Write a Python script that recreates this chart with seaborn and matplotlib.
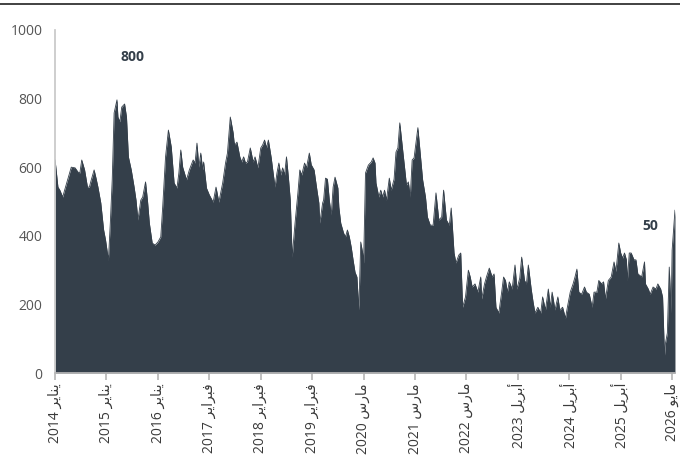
import seaborn as sns
import matplotlib.pyplot as plt
import pandas as pd

# weekly counts (week 0 = Jan 2014)
weeks = [0, 3, 5, 8, 10, 14, 17, 21, 24, 26, 28, 31, 34, 36, 38, 41, 43, 45, 48, 51,
         53, 56, 58, 60, 62, 65, 66, 68, 70, 73, 75, 77, 80, 83, 85, 87, 90, 92, 95, 97,
         99, 102, 105, 108, 111, 113, 116, 119, 122, 125, 128, 130, 132, 134, 138, 141, 145, 147, 149, 151,
         153, 155, 156, 159, 162, 166, 169, 172, 176, 179, 181, 184, 187, 188, 189, 191, 194, 196, 198, 200,
         202, 205, 208, 210, 213, 216, 218, 220, 222, 224, 227, 229, 231, 233, 235, 237, 239, 241, 243, 245,
         247, 249, 252, 255, 257, 259, 262, 264, 267, 269, 272, 275, 277, 278, 281, 282, 284, 286, 288, 290,
         292, 294, 297, 298, 300, 303, 305, 307, 309, 311, 313, 315, 317, 319, 321, 323, 324, 326, 329, 332,
         334, 336, 337, 340, 342, 344, 346, 348, 351, 353, 356, 358, 360, 362, 365, 367, 369, 371, 373, 375,
         377, 381, 386, 389, 391, 394, 397, 400, 403, 406, 408, 411, 414, 416, 419, 421, 424, 426, 428, 431,
         434, 436, 438, 441, 444, 447, 448, 451, 453, 456, 459, 461, 463, 466, 469, 471, 473, 475, 477, 480,
         483, 485, 488, 490, 493, 495, 497, 500, 502, 504, 507, 510, 512, 515, 518, 520, 522, 525, 528, 530,
         533, 536, 538, 541, 544, 546, 548, 550, 553, 556, 558, 561, 564, 566, 569, 571, 574, 576, 578, 581,
         584, 587, 589, 592, 594, 596, 598, 600, 601, 603, 605, 608, 610, 612, 614, 616, 619, 620, 623, 625,
         628, 631, 633, 636, 638, 640, 641, 643, 645, 647, 648, 651]
counts = [621, 542, 533, 513, 533, 571, 600, 598, 586, 583, 621, 592, 542, 542, 563, 592, 568, 542, 496, 417,
          388, 329, 437, 563, 758, 796, 746, 732, 775, 784, 746, 630, 592, 542, 504, 446, 504, 513, 557, 504,
          437, 379, 373, 382, 397, 484, 630, 708, 659, 554, 539, 583, 650, 600, 563, 592, 621, 612, 670, 600,
          641, 592, 615, 539, 519, 498, 542, 498, 554, 612, 641, 746, 700, 673, 665, 673, 630, 615, 630, 612,
          615, 656, 615, 630, 598, 656, 665, 679, 656, 679, 627, 583, 542, 583, 612, 577, 598, 577, 630, 571,
          504, 338, 437, 525, 592, 577, 612, 598, 641, 607, 592, 533, 496, 437, 496, 504, 568, 565, 504, 461,
          542, 571, 539, 484, 437, 408, 397, 417, 397, 367, 329, 294, 280, 184, 382, 350, 321, 583, 606, 615,
          627, 612, 554, 513, 533, 513, 533, 504, 568, 533, 565, 644, 656, 729, 650, 600, 548, 557, 513, 621,
          627, 715, 563, 513, 455, 431, 431, 525, 446, 455, 533, 446, 431, 481, 350, 321, 344, 350, 192, 222,
          300, 280, 251, 260, 236, 280, 216, 260, 280, 306, 280, 289, 192, 175, 236, 280, 270, 236, 266, 245,
          315, 245, 277, 338, 270, 260, 315, 245, 207, 175, 192, 175, 222, 184, 245, 192, 236, 184, 222, 184,
          192, 160, 192, 236, 260, 280, 303, 236, 230, 251, 236, 230, 192, 236, 236, 270, 260, 266, 216, 270,
          280, 324, 296, 379, 350, 335, 350, 330, 270, 350, 350, 330, 330, 289, 285, 280, 324, 260, 245, 230,
          251, 245, 260, 245, 222, 52, 87, 117, 309, 175, 358, 475]

tick_weeks = [0, 54, 108, 162, 216, 270, 324, 378, 432, 486, 540, 594, 648]
tick_labels = ['يناير 2014', 'يناير 2015', 'يناير 2016', 'فبراير 2017', 'فبراير 2018',
               'فبراير 2019', 'مارس 2020', 'مارس 2021', 'مارس 2022', 'أبريل 2023',
               'أبريل 2024', 'أبريل 2025', 'مايو 2026']
y_ticks = [0, 200, 400, 600, 800, 1000]

# matplotlib does no arabic shaping, so pick the joined glyph forms by hand
FORMS = {  # isolated, final, initial, medial
    'ي': '\ufef1\ufef2\ufef3\ufef4', 'ن': '\ufee5\ufee6\ufee7\ufee8',
    'ف': '\ufed1\ufed2\ufed3\ufed4', 'ب': '\ufe8f\ufe90\ufe91\ufe92',
    'م': '\ufee1\ufee2\ufee3\ufee4', 'س': '\ufeb1\ufeb2\ufeb3\ufeb4',
    'ل': '\ufedd\ufede\ufedf\ufee0',
    'ا': '\ufe8d\ufe8e', 'أ': '\ufe83\ufe84', 'ر': '\ufead\ufeae', 'و': '\ufeed\ufeee',
}


def shape(word):
    out = []
    for i, ch in enumerate(word):
        f = FORMS[ch]
        prev_joins = i > 0 and len(FORMS[word[i - 1]]) == 4
        next_joins = i < len(word) - 1 and len(f) == 4
        if prev_joins and next_joins:
            out.append(f[3])
        elif next_joins:
            out.append(f[2])
        elif prev_joins:
            out.append(f[1])
        else:
            out.append(f[0])
    return ''.join(out[::-1])


def visual(label):
    month, year = label.rsplit(' ', 1)
    return year + ' ' + shape(month)


df = pd.DataFrame({'week': weeks, 'count': counts})

sns.set_theme(style='white')
plt.rcParams['font.family'] = ['Open Sans', 'DejaVu Sans']

fill = '#343f4a'
fig = plt.figure(figsize=(6.8, 4.59), dpi=100)
ax = fig.add_axes([0.081, 0.187, 0.9116, 0.748])

sns.lineplot(data=df, x='week', y='count', color=fill, linewidth=0.6, ax=ax)
ax.fill_between(df['week'], df['count'], color=fill, linewidth=0)

ax.set_xlim(0, 651)
ax.set_ylim(0, 1000)
ax.set_yticks(y_ticks)
ax.set_yticklabels([str(v) for v in y_ticks])
ax.set_xticks(tick_weeks)
ax.set_xticklabels([visual(t) for t in tick_labels], rotation=90)
ax.set_xlabel('')
ax.set_ylabel('')

for side in ['top', 'right']:
    ax.spines[side].set_visible(False)
ax.spines['left'].set_color('#c8c8c8')
ax.spines['bottom'].set_color('#b8b8b8')
ax.tick_params(axis='y', length=5, color='#c8c8c8', labelsize=10, labelcolor='#555555', pad=4)
ax.tick_params(axis='x', length=5, color='#b8b8b8', labelsize=10, labelcolor='#3a3a3a', pad=2,
               bottom=True)

ax.text(81, 921, '800', fontsize=10, fontweight='bold', color=fill, ha='center', va='center')
ax.text(625, 428, '50', fontsize=10, fontweight='bold', color=fill, ha='center', va='center')

fig.add_artist(plt.Line2D([0, 1], [0.991, 0.991], color='#333333', linewidth=1.3))

fig.savefig('out.png', dpi=100)
